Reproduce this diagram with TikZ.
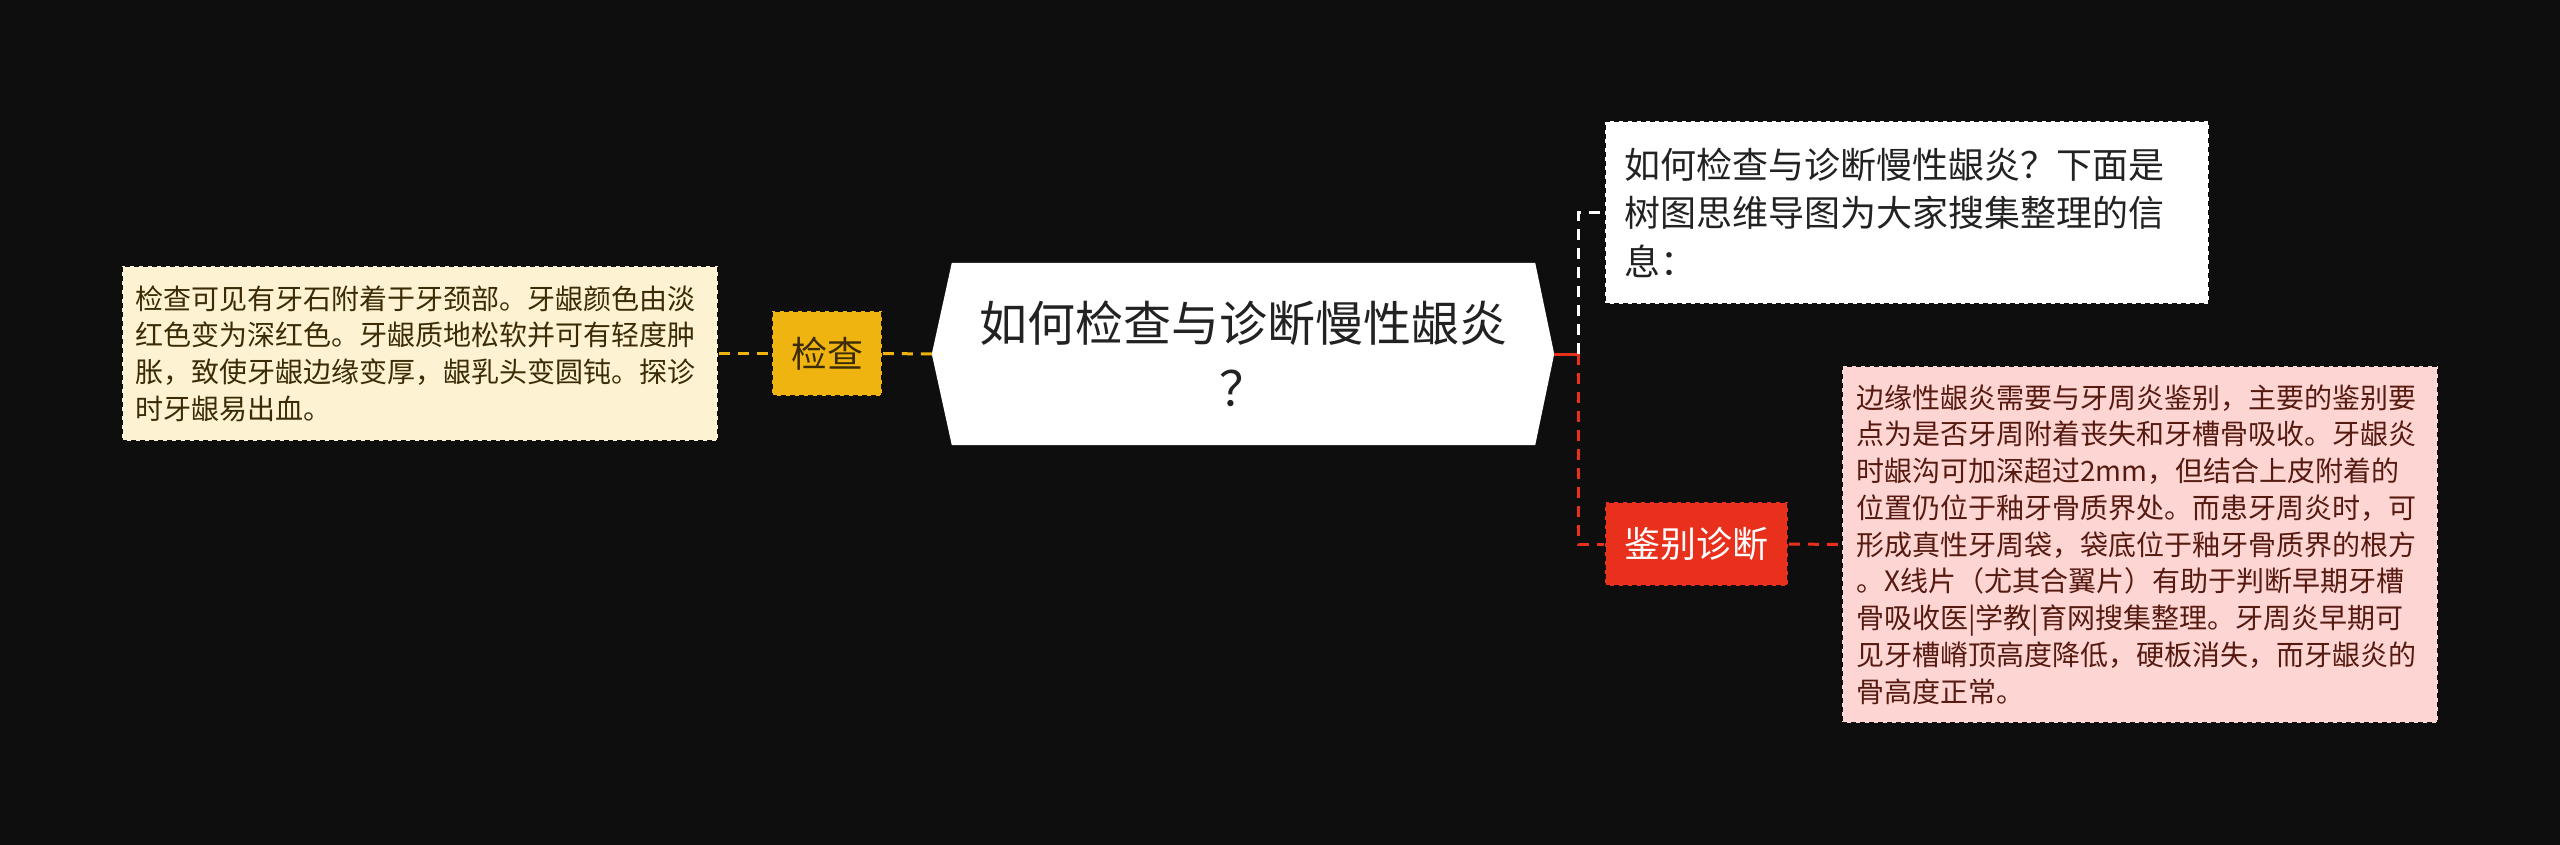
\documentclass[tikz,border=0pt]{standalone}
\usepackage{fontspec}
\setmainfont{Noto Sans CJK SC}
\usetikzlibrary{backgrounds,calc}
\definecolor{bg}{HTML}{0E0E0E}
\definecolor{myyellow}{HTML}{EFB40F}
\definecolor{myred}{HTML}{E8301C}
\definecolor{cream}{HTML}{FDF3D2}
\definecolor{pink}{HTML}{FDD6D3}
\definecolor{creamtext}{HTML}{3B2C06}
\definecolor{pinktext}{HTML}{561A10}
\definecolor{darktext}{HTML}{222222}
\tikzset{
  boxedge/.style={draw=bg, dash pattern=on 5pt off 4pt, line width=1.6pt},
  textbox/.style={boxedge, align=left, anchor=center, inner xsep=0pt, inner ysep=0pt},
  yconn/.style={draw=myyellow, line width=3pt, dash pattern=on 11pt off 8pt},
  rconn/.style={draw=myred, line width=3pt, dash pattern=on 11pt off 8pt},
  wconn/.style={draw=white, line width=3pt, dash pattern=on 11pt off 8pt},
}
\begin{document}
\begin{tikzpicture}[x=1pt,y=-1pt]
\useasboundingbox (0,0) rectangle (2560,845);

% central topic
\node[minimum width=622pt, minimum height=182pt, inner sep=0pt, align=center,
      text=darktext, font=\fontsize{48}{65}\selectfont] (center) at (1243,354)
      {如何检查与诊断慢性龈炎\\？};
\begin{pgfonlayer}{background}
\fill[bg] (0,0) rectangle (2560,845);
\fill[white] (center.west) -- ($(center.north west)+(20,0)$) -- ($(center.north east)+(-19,0)$)
  -- (center.east) -- ($(center.south east)+(-19,0)$) -- ($(center.south west)+(20,0)$) -- cycle;
\end{pgfonlayer}

% left branch
\node[boxedge, fill=myyellow, minimum width=110pt, minimum height=85pt, inner sep=0pt,
      text=creamtext, font=\fontsize{36}{44}\selectfont] (jc) at (827,353.5) {检查};
\node[textbox, fill=cream, text=creamtext, text width=570pt, minimum width=596pt,
      minimum height=175pt, font=\fontsize{28}{36.6}\selectfont] (lbox) at (420,353.5)
{检查可见有牙石附着于牙颈部。牙龈颜色由淡\\
红色变为深红色。牙龈质地松软并可有轻度肿\\
胀，致使牙龈边缘变厚，龈乳头变圆钝。探诊\\
时牙龈易出血。};

% right branches
\node[boxedge, fill=white, text=darktext, align=left, text width=566pt, inner xsep=19pt,
      inner ysep=0pt, minimum width=604pt, minimum height=183pt,
      font=\fontsize{36}{48.5}\selectfont] (top) at (1907,212.5)
{如何检查与诊断慢性龈炎？下面是\\
树图思维导图为大家搜集整理的信\\
息：};

\node[boxedge, fill=myred, text=white, minimum width=183pt, minimum height=84pt, inner sep=0pt,
      font=\fontsize{36}{44}\selectfont] (jb) at (1696.5,544) {鉴别诊断};

\node[textbox, fill=pink, text=pinktext, text width=568pt, minimum width=596pt,
      minimum height=357pt, font=\fontsize{28}{36.75}\selectfont] (pbox) at (2140,544.5)
{边缘性龈炎需要与牙周炎鉴别，主要的鉴别要\\
点为是否牙周附着丧失和牙槽骨吸收。牙龈炎\\
时龈沟可加深超过2mm，但结合上皮附着的\\
位置仍位于釉牙骨质界处。而患牙周炎时，可\\
形成真性牙周袋，袋底位于釉牙骨质界的根方\\
。X线片（尤其合翼片）有助于判断早期牙槽\\
骨吸收医|学教|育网搜集整理。牙周炎早期可\\
见牙槽嵴顶高度降低，硬板消失，而牙龈炎的\\
骨高度正常。};

% connectors
\coordinate (j) at (1578,354);
\draw[yconn] (lbox.east) -- (jc.west);
\draw[yconn] (jc.east) -- (center.west);
\draw[draw=myred, line width=3pt] (center.east) -- (j);
\draw[wconn] (j) |- (top.west);
\draw[rconn] (j) |- (jb.west);
\draw[rconn] (jb.east) -- (pbox.west);
\end{tikzpicture}
\end{document}
